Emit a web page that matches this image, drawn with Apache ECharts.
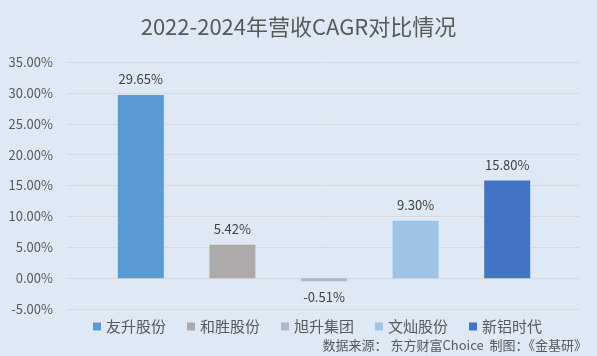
<!DOCTYPE html>
<html><head><meta charset="utf-8">
<script src="https://cdn.jsdelivr.net/npm/echarts@6/dist/echarts.min.js"></script>
<style>html,body{margin:0;padding:0;background:#dee9f5;}#c{width:597px;height:356px;}</style>
</head><body><div id="c"></div>
<script>
const categories = ['友升股份', '和胜股份', '旭升集团', '文灿股份', '新铝时代'];
const cagrValues = [29.65, 5.42, -0.51, 9.30, 15.80];
const barColors = ['#5b9bd5', '#aeaaaa', '#adb9ca', '#9dc3e6', '#4472c4'];
const yTicks = { min: -5, max: 35, interval: 5 };
const titleText = '2022-2024年营收CAGR对比情况';
const sourceText = '数据来源： 东方财富Choice  制图：《金基研》';

const FONT = '"Noto Sans CJK SC", "Noto Sans", sans-serif';
const chart = echarts.init(document.getElementById('c'));

const series = categories.map((name, i) => ({
  name: name,
  type: 'bar',
  xAxisIndex: 1,
  yAxisIndex: 1,
  stack: 'all',
  barWidth: 46,
  itemStyle: { color: barColors[i] },
  label: {
    show: true,
    position: cagrValues[i] < 0 ? 'bottom' : 'top',
    distance: 9,
    color: '#404040',
    fontSize: 13,
    fontFamily: FONT,
    formatter: p => p.value.toFixed(2) + '%'
  },
  data: categories.map((c, j) => j === i ? cagrValues[i] : '-')
}));

chart.setOption({
  backgroundColor: '#dee9f5',
  animation: false,
  title: {
    text: titleText,
    left: 'center',
    top: 11,
    textStyle: { color: '#595959', fontSize: 22, fontWeight: 'normal', fontFamily: FONT }
  },
  legend: {
    data: categories,
    left: 93,
    top: 319,
    padding: 0,
    icon: 'rect',
    itemWidth: 8,
    itemHeight: 8,
    itemGap: 21,
    textStyle: { color: '#595959', fontSize: 15, fontFamily: FONT }
  },
  grid: [
    { left: 67, right: 17, top: 62, bottom: 47 },
    { left: 95, right: 44, top: 62, bottom: 47 }
  ],
  xAxis: [
    { type: 'category', gridIndex: 0, data: categories, show: false },
    { type: 'category', gridIndex: 1, data: categories,
      axisLine: { show: false }, axisTick: { show: false }, axisLabel: { show: false } }
  ],
  yAxis: [
    { type: 'value', gridIndex: 0, min: yTicks.min, max: yTicks.max, interval: yTicks.interval,
      axisLine: { show: false }, axisTick: { show: false },
      splitLine: { lineStyle: { color: '#d9d9d9', width: 1 } },
      axisLabel: { color: '#595959', fontSize: 13, fontFamily: FONT, margin: 14,
        formatter: v => v.toFixed(2) + '%' } },
    { type: 'value', gridIndex: 1, min: yTicks.min, max: yTicks.max, interval: yTicks.interval,
      show: false, splitLine: { show: false } }
  ],
  graphic: [{
    type: 'text',
    right: 10,
    top: 339,
    style: { text: sourceText, fill: '#595959', fontSize: 13, fontFamily: FONT }
  }],
  series: series
});
</script></body></html>
